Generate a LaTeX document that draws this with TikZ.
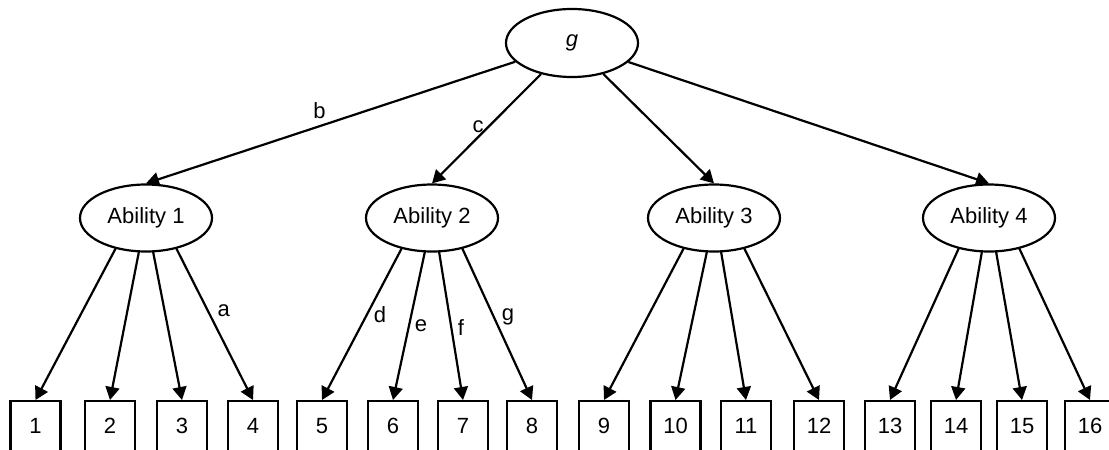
\documentclass[tikz,border=0pt]{standalone}
\usepackage{fontspec}
\setmainfont{Liberation Sans}
\usetikzlibrary{arrows.meta,calc,shapes.geometric}
\begin{document}
\begin{tikzpicture}[x=0.5pt,y=-0.5pt,
  line width=1.1pt,
  every node/.style={font=\fontsize{11}{13}\selectfont},
  latent/.style={draw, ellipse, minimum width=66pt, minimum height=33.5pt, inner sep=0pt},
  item/.style={draw, rectangle, minimum width=25pt, minimum height=25pt, inner sep=0pt, anchor=north},
  loading/.style={-{Triangle[length=6.5pt,width=7pt]}}
]
\useasboundingbox (0,0) rectangle (1109,450);

% general factor and the four abilities
\node[latent, minimum height=34pt] (g) at (572,43) {\textit{g}};
\node[latent] (A1) at (146,218) {Ability 1};
\node[latent] (A2) at (432,218) {Ability 2};
\node[latent] (A3) at (714,218) {Ability 3};
\node[latent] (A4) at (989,218) {Ability 4};

% observed items
\foreach \i/\x in {1/35.5,2/110,3/182,4/253,5/322,6/393,7/463,8/532,
                   9/604,10/675.5,11/746,12/819,13/890,14/956,15/1022,16/1090}
  \node[item] (b\i) at (\x,400) {\i};

% exit points on the lower rim of each ability
\foreach \k in {1,2,3,4} {
  \coordinate (s\k-1) at ($(A\k)+(-30,29.8)$);
  \coordinate (s\k-2) at ($(A\k)+(-7,33.3)$);
  \coordinate (s\k-3) at ($(A\k)+(7,33.3)$);
  \coordinate (s\k-4) at ($(A\k)+(30,29.8)$);
}

% second-order loadings
\draw[loading] (g) -- node[pos=0.53, above, inner sep=3.4pt] {b} (A1.north);
\draw[loading] (g) -- node[pos=0.48, left, inner sep=2pt] {c} (A2.north);
\draw[loading] (g) -- (A3.north);
\draw[loading] (g) -- (A4.north);

% first-order loadings
\draw[loading] (s1-1) -- (b1.north);
\draw[loading] (s1-2) -- (b2.north);
\draw[loading] (s1-3) -- (b3.north);
\draw[loading] (s1-4) -- node[pos=0.415, right, inner sep=4.3pt] {a} (b4.north);

\draw[loading] (s2-1) -- node[pos=0.44, right, inner sep=3pt] {d} (b5.north);
\draw[loading] (s2-2) -- node[pos=0.50, right, inner sep=2.4pt] {e} (b6.north);
\draw[loading] (s2-3) -- node[pos=0.51, right, inner sep=2.8pt] {f} (b7.north);
\draw[loading] (s2-4) -- node[pos=0.455, right, inner sep=3.5pt] {g} (b8.north);

\draw[loading] (s3-1) -- (b9.north);
\draw[loading] (s3-2) -- (b10.north);
\draw[loading] (s3-3) -- (b11.north);
\draw[loading] (s3-4) -- (b12.north);

\draw[loading] (s4-1) -- (b13.north);
\draw[loading] (s4-2) -- (b14.north);
\draw[loading] (s4-3) -- (b15.north);
\draw[loading] (s4-4) -- (b16.north);
\end{tikzpicture}
\end{document}
